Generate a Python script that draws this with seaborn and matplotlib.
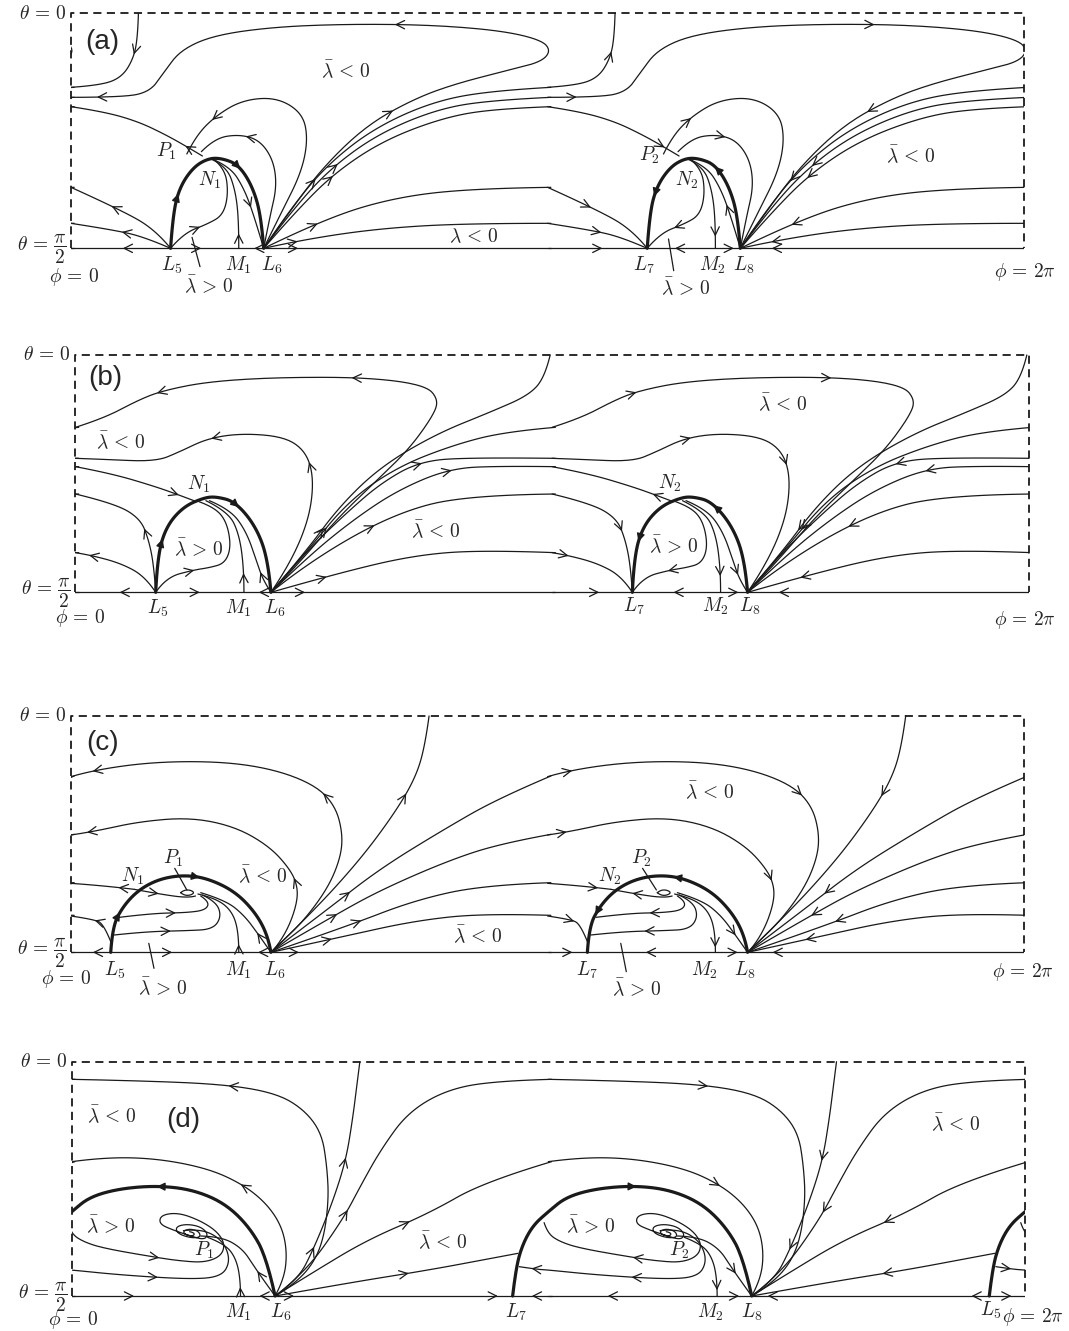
import numpy as np
import matplotlib
matplotlib.use("Agg")
import matplotlib.pyplot as plt
from matplotlib.patches import Rectangle
import seaborn as sns

sns.set_theme(style="white")
plt.rcParams['font.family'] = ['DejaVu Serif']
plt.rcParams['mathtext.fontset'] = 'cm'

# Trajectories, in tracing units (about 2.9 units per
# pixel across, 3 per pixel down).  Each panel is pi-periodic in phi with the
# flow reversed, so only the window 0 <= phi <= pi is traced; the other half is
# drawn as the shifted, reversed copy.
SPAN = 2755.0                      # tracing units across phi = 0 .. 2*pi

# frame: left wall, top (theta=0), bottom (theta=pi/2), vertical offset (px)
a_frame = (205, 40, 745, 0)
b_frame = (218, 45, 757, 340)
c_frame = (205, 48, 757, 700)
d_frame = (207, 65, 768, 1040)

TH0 = r'$\theta \,=\, 0$'
TH90 = r'$\theta \,=\, \dfrac{\pi}{2}$'
PH0 = r'$\phi \,=\, 0$'
PH2 = r'$\phi \,=\, 2\pi$'
NEG = r'$\bar{\lambda} \,<\, 0$'
POS = r'$\bar{\lambda} \,>\, 0$'

# ---------------- panel (a)
a_curves = [
    ([(400, 40), (398, 110), (386, 175), (352, 232), (290, 256), (205, 262)], [0.35]),
    ([(762, 745), (830, 645), (930, 505), (1060, 375), (1200, 295), (1320, 250), (1480, 208),
      (1565, 185), (1592, 152), (1565, 120), (1450, 92), (1250, 75), (1020, 72), (800, 80),
      (620, 105), (522, 150), (475, 215), (430, 280), (330, 292), (205, 292)], [0.22, 0.6, 0.97]),
    ([(585, 468), (540, 440), (480, 405), (400, 365), (300, 335), (205, 320)], [0.14]),
    ([(493, 745), (450, 690), (350, 630), (205, 562)], [0.62]),
    ([(493, 745), (420, 712), (330, 690), (205, 670)], [0.5]),
    ([(493, 745), (530, 700), (600, 672), (645, 645), (660, 580), (650, 505), (615, 475)], [0.3]),
    ([(690, 745), (690, 660), (680, 570), (655, 500), (612, 478)], [0.15]),
    ([(615, 478), (665, 500), (705, 565), (735, 650), (762, 745)], [0.6]),
    ([(762, 745), (812, 640), (870, 520), (890, 420), (875, 340), (800, 292), (700, 300),
      (620, 350), (565, 410), (540, 462)], [0.85]),
    ([(762, 745), (780, 650), (800, 560), (790, 480), (750, 420), (690, 403), (620, 415),
      (582, 455)], [0.72]),
    ([(762, 745), (840, 625), (945, 495), (1080, 385), (1250, 305), (1420, 272), (1592, 262)], [0.25]),
    ([(762, 745), (845, 630), (955, 505), (1095, 400), (1270, 325), (1430, 300), (1592, 292)], [0.33]),
    ([(762, 745), (850, 640), (965, 520), (1110, 420), (1290, 350), (1440, 326), (1592, 320)], [0.3]),
    ([(762, 745), (940, 655), (1150, 590), (1380, 565), (1592, 562)], [0.2]),
    ([(762, 745), (880, 718), (1100, 685), (1350, 670), (1592, 670)], [0.12]),
    ([(493, 745), (205, 745)], [0.48]),
    ([(493, 745), (690, 745)], [0.45]),
    ([(762, 745), (690, 745)], [0.38]),
    ([(762, 745), (1592, 745)], [0.12]),
]
a_thick = [
    ([(493, 745), (500, 640), (520, 560), (560, 500), (605, 474), (645, 476), (690, 495),
      (730, 560), (755, 650), (762, 745)], [0.25, 0.62]),
]
a_labels = [
    (TH0, 192, 42, 'right'), (TH90, 192, 748, 'right'),
    (PH0, 215, 830, 'center'), (PH2, 2962, 817, 'center'),
    (NEG, 1000, 210, 'center'), (NEG, 1370, 705, 'center'),
    (r'$P_1$', 480, 455, 'center'), (r'$N_1$', 605, 540, 'center'),
    (r'$L_5$', 495, 796, 'center'), (r'$M_1$', 688, 796, 'center'), (r'$L_6$', 785, 796, 'center'),
    (POS, 605, 856, 'center'),
    (r'$P_2$', 1877, 467, 'center'), (r'$N_2$', 1985, 542, 'center'),
    (r'$L_7$', 1862, 796, 'center'), (r'$M_2$', 2060, 796, 'center'), (r'$L_8$', 2150, 796, 'center'),
    (POS, 1982, 862, 'center'), (NEG, 2632, 467, 'center'),
]
a_leaders = [((555, 712), (578, 800)), ((1932, 717), (1947, 812))]

# ---------------- panel (b)
b_curves = [
    ([(783, 757), (800, 740), (880, 650), (980, 530), (1080, 430), (1180, 330), (1250, 230),
      (1268, 180), (1230, 135), (1060, 112), (800, 112), (600, 125), (470, 152), (400, 180),
      (300, 235), (218, 262)], [0.55, 0.86]),
    ([(783, 757), (820, 700), (870, 600), (900, 500), (905, 400), (880, 330), (820, 290),
      (700, 280), (600, 295), (520, 335), (450, 365), (300, 358), (218, 355)], [0.36, 0.64]),
    ([(218, 380), (320, 400), (450, 440), (525, 468), (568, 485)], [0.85]),
    ([(450, 757), (445, 680), (430, 600), (405, 535), (330, 490), (218, 462)], [0.45]),
    ([(450, 757), (420, 710), (350, 670), (260, 645), (218, 638)], [0.85]),
    ([(450, 757), (480, 712), (560, 690), (605, 683), (650, 670), (668, 620), (655, 545),
      (620, 502), (575, 485)], [0.3]),
    ([(705, 757), (705, 690), (692, 585), (660, 515), (595, 482)], [0.18]),
    ([(783, 757), (760, 720), (742, 665), (712, 575), (665, 508), (605, 482)], [0.2]),
    ([(783, 757), (880, 640), (980, 500), (1100, 380), (1260, 282), (1420, 215), (1530, 165),
      (1575, 110), (1590, 45)], [0.22]),
    ([(783, 757), (890, 630), (1010, 480), (1150, 380), (1310, 315), (1460, 275), (1605, 262)], [0.25]),
    ([(783, 757), (880, 640), (1000, 520), (1100, 430), (1210, 365), (1350, 352), (1605, 355)], [0.6]),
    ([(783, 757), (890, 650), (1020, 540), (1150, 450), (1300, 385), (1450, 378), (1605, 380)], [0.68]),
    ([(783, 757), (900, 660), (1140, 520), (1350, 465), (1605, 462)], [0.4]),
    ([(783, 757), (975, 700), (1200, 645), (1400, 630), (1605, 638)], [0.2]),
    ([(450, 757), (218, 757)], [0.45]),
    ([(450, 757), (705, 757)], [0.5]),
    ([(783, 757), (705, 757)], [0.45]),
    ([(783, 757), (1605, 757)], [0.12]),
]
b_thick = [
    ([(450, 757), (455, 650), (480, 560), (530, 500), (590, 473), (625, 470), (680, 485),
      (740, 560), (775, 660), (783, 757)], [0.22, 0.62]),
]
b_labels = [
    (TH0, 205, 45, 'right'), (TH90, 205, 760, 'right'),
    (PH0, 230, 835, 'center'), (PH2, 2962, 840, 'center'),
    (NEG, 350, 305, 'center'), (POS, 575, 625, 'center'),
    (NEG, 1260, 570, 'center'), (r'$N_1$', 575, 432, 'center'),
    (r'$L_5$', 455, 805, 'center'), (r'$M_1$', 690, 805, 'center'), (r'$L_6$', 795, 805, 'center'),
    (NEG, 2262, 190, 'center'), (POS, 1947, 615, 'center'),
    (r'$N_2$', 1937, 430, 'center'), (r'$L_7$', 1832, 800, 'center'),
    (r'$M_2$', 2067, 800, 'center'), (r'$L_8$', 2167, 800, 'center'),
]
b_leaders = []

# ---------------- panel (c)
c_curves = [
    ([(783, 757), (800, 740), (880, 660), (950, 560), (985, 470), (990, 400), (970, 320),
      (915, 258), (800, 210), (650, 185), (450, 185), (270, 210), (205, 230)], [0.42, 0.95]),
    ([(783, 757), (800, 740), (835, 680), (858, 610), (860, 560), (840, 510), (780, 440),
      (680, 380), (550, 352), (400, 365), (270, 395), (205, 405)], [0.25, 0.95]),
    ([(388, 568), (300, 557), (205, 550)], [0.25]),
    ([(388, 568), (465, 583), (545, 594), (565, 588)], [0.4]),
    ([(322, 730), (300, 672), (270, 658), (205, 648)], [0.55]),
    ([(330, 705), (420, 695), (540, 692), (615, 688), (640, 650), (625, 605), (585, 585)], [0.4]),
    ([(345, 652), (440, 640), (540, 638), (595, 630), (605, 605), (580, 588)], [0.55]),
    ([(690, 757), (690, 700), (672, 635), (625, 595), (572, 582)], [0.1]),
    ([(783, 757), (748, 705), (705, 645), (650, 600), (580, 578)], [0.25]),
    ([(522, 578), (532, 570), (550, 570), (562, 578), (550, 586), (532, 586), (522, 578)], []),
    ([(783, 757), (900, 640), (1040, 480), (1140, 340), (1200, 235), (1228, 140), (1240, 48)], [0.72]),
    ([(783, 757), (950, 625), (1100, 505), (1280, 390), (1440, 295), (1592, 228)], [0.3]),
    ([(783, 757), (960, 650), (1100, 570), (1300, 480), (1450, 430), (1592, 403)], [0.25]),
    ([(783, 757), (1000, 680), (1200, 600), (1400, 555), (1592, 548)], [0.33]),
    ([(783, 757), (990, 710), (1200, 662), (1400, 640), (1592, 646)], [0.22]),
    ([(320, 757), (205, 757)], [0.45]),
    ([(320, 757), (690, 757)], [0.48]),
    ([(783, 757), (690, 757)], [0.4]),
    ([(783, 757), (1592, 757)], [0.1]),
]
c_thick = [
    ([(320, 757), (325, 680), (355, 620), (400, 570), (460, 537), (530, 525), (600, 535),
      (680, 575), (740, 640), (775, 710), (783, 757)], [0.17, 0.55]),
]
c_labels = [
    (TH0, 192, 48, 'right'), (TH90, 192, 760, 'right'),
    (PH0, 190, 838, 'center'), (PH2, 2957, 815, 'center'),
    (r'$P_1$', 500, 475, 'center'), (r'$N_1$', 383, 530, 'center'),
    (NEG, 760, 525, 'center'), (r'$L_5$', 330, 812, 'center'),
    (POS, 470, 862, 'center'), (r'$M_1$', 690, 812, 'center'),
    (r'$L_6$', 795, 812, 'center'), (NEG, 1380, 705, 'center'),
    (NEG, 2052, 275, 'center'), (r'$P_2$', 1852, 475, 'center'),
    (r'$N_2$', 1762, 530, 'center'), (r'$L_7$', 1697, 810, 'center'),
    (POS, 1842, 865, 'center'), (r'$M_2$', 2037, 810, 'center'),
    (r'$L_8$', 2152, 810, 'center'),
]
c_leaders = [((430, 730), (445, 805)), ((1794, 730), (1810, 815)),
             ((505, 505), (540, 570)), ((1857, 505), (1897, 570))]

# ---------------- panel (d)
d_curves = [
    ([(795, 768), (840, 740), (900, 680), (935, 600), (950, 480), (945, 380), (930, 280),
      (880, 210), (800, 160), (650, 133), (400, 122), (207, 118)], [0.65]),
    ([(795, 768), (820, 720), (830, 640), (815, 560), (770, 490), (700, 432), (600, 385),
      (450, 355), (300, 352), (207, 365)], [0.43]),
    ([(195, 548), (205, 580), (240, 605), (300, 625), (450, 652), (515, 662), (590, 668),
      (640, 648), (650, 610), (625, 572), (575, 540), (515, 518), (465, 525), (460, 552),
      (500, 570), (545, 586), (590, 600), (602, 582), (580, 560), (540, 552), (508, 560),
      (512, 580), (550, 594), (580, 592), (575, 574), (548, 566), (528, 574), (538, 586),
      (560, 588), (562, 578), (548, 575)], [0.25]),
    ([(123, 680), (175, 688), (207, 690), (350, 705), (550, 718), (640, 710), (665, 665),
      (650, 612), (610, 578), (560, 568), (530, 572)], [0.06, 0.45]),
    ([(695, 768), (695, 720), (682, 655), (650, 612), (600, 592)], [0.12]),
    ([(795, 768), (765, 725), (735, 680), (700, 625), (640, 590), (580, 588)], [0.3]),
    ([(795, 768), (860, 720), (905, 630), (960, 490), (1000, 360), (1020, 230), (1032, 130),
      (1040, 65)], [0.25, 0.62]),
    ([(795, 768), (880, 700), (990, 540), (1045, 432), (1100, 330), (1180, 215), (1300, 145),
      (1450, 122), (1594, 118)], [0.3]),
    ([(795, 768), (900, 700), (1060, 600), (1240, 520), (1400, 425), (1594, 365)], [0.5]),
    ([(795, 768), (1000, 730), (1240, 690), (1420, 655), (1497, 640)], [0.55]),
    ([(207, 768), (695, 768)], [0.37]),
    ([(795, 768), (695, 768)], [0.45]),
    ([(795, 768), (1480, 768)], [0.08, 0.94]),
    ([(1594, 768), (1480, 768)], [0.5]),
]
d_thick = [
    ([(795, 768), (770, 650), (720, 560), (650, 490), (560, 450), (460, 437), (350, 445),
      (260, 470), (207, 515), (164, 555), (134, 610), (114, 680), (104, 768)], [0.49]),
]
d_labels = [
    (TH0, 195, 65, 'right'), (TH90, 195, 771, 'right'),
    (PH0, 210, 840, 'center'), (PH2, 3075, 832, 'right'),
    (NEG, 325, 225, 'center'), (POS, 320, 555, 'center'),
    (r'$P_1$', 590, 630, 'center'), (r'$M_1$', 690, 818, 'center'), (r'$L_6$', 810, 818, 'center'),
    (NEG, 1280, 605, 'center'), (r'$L_7$', 1490, 818, 'center'),
    (POS, 1707, 556, 'center'), (r'$P_2$', 1962, 631, 'center'),
    (r'$M_2$', 2052, 818, 'center'), (r'$L_8$', 2172, 818, 'center'),
    (NEG, 2762, 251, 'center'), (r'$L_5$', 2862, 812, 'center'),
]
d_leaders = []

panel_names = ['(a)', '(b)', '(c)', '(d)']
name_spots = [(295, 125), (305, 115), (295, 130), (530, 240)]


def to_data(x, y, frame):
    zl, zt, zb, _ = frame
    phi = (np.asarray(x, float) - zl) / SPAN * 2 * np.pi
    th = (np.asarray(y, float) - zt) / (zb - zt) * np.pi / 2
    return phi, th


def smooth(pts, n=14):
    P = np.asarray(pts, float)
    if len(P) < 3:
        return P
    out = [P[:1]]
    start = P[0]
    t = np.linspace(0, 1, n)[1:, None]
    for i in range(1, len(P) - 1):
        end = P[i + 1] if i == len(P) - 2 else 0.5 * (P[i] + P[i + 1])
        out.append((1 - t) ** 2 * start + 2 * (1 - t) * t * P[i] + t ** 2 * end)
        start = end
    return np.vstack(out)


def draw_curve(ax, clip, pts, arrows, frame, thick=False):
    S = smooth(pts)
    d = np.hypot(np.diff(S[:, 0]) / 2.89, np.diff(S[:, 1]) / 3.0)
    s = np.concatenate([[0], np.cumsum(d)])
    lw = 2.3 if thick else 0.9
    if thick:
        style = dict(arrowstyle='-|>,head_length=0.6,head_width=0.3', color='k',
                     lw=1.0, mutation_scale=8, shrinkA=0, shrinkB=0)
    else:
        style = dict(arrowstyle='->,head_length=0.6,head_width=0.3', color='k',
                     lw=0.9, mutation_scale=10, shrinkA=0, shrinkB=0)
    for k in (-1, 0, 1, 2):
        xs = S[:, 0] + k * SPAN / 2
        phi, th = to_data(xs, S[:, 1], frame)
        ln, = ax.plot(phi, th, color='k', lw=lw, solid_capstyle='round')
        ln.set_clip_path(clip)
        for f in arrows:
            pos = f * s[-1]
            p1 = to_data(np.interp(pos, s, xs), np.interp(pos, s, S[:, 1]), frame)
            p0 = to_data(np.interp(pos - 3, s, xs), np.interp(pos - 3, s, S[:, 1]), frame)
            if not (0.03 < float(p1[0]) < 2 * np.pi - 0.03):
                continue
            if k % 2:
                p0, p1 = p1, p0
            ax.annotate('', xy=(float(p1[0]), float(p1[1])), xytext=(float(p0[0]), float(p0[1])),
                        arrowprops=style, annotation_clip=False)


fig = plt.figure(figsize=(10.69, 13.31), dpi=100)
panels = [
    (a_frame, a_curves, a_thick, a_labels, a_leaders),
    (b_frame, b_curves, b_thick, b_labels, b_leaders),
    (c_frame, c_curves, c_thick, c_labels, c_leaders),
    (d_frame, d_curves, d_thick, d_labels, d_leaders),
]

for i, (frame, curves, thick, labels, leaders) in enumerate(panels):
    zl, zt, zb, y0 = frame
    left = zl / 2.89
    top = y0 + zt / 3.0
    bottom = y0 + zb / 3.0
    ax = fig.add_axes([left / 1069, 1 - bottom / 1331, SPAN / 2.89 / 1069, (bottom - top) / 1331])
    ax.set_xlim(0, 2 * np.pi)
    ax.set_ylim(np.pi / 2, 0)
    ax.axis('off')
    clip = Rectangle((0, -0.1), 2 * np.pi, np.pi / 2 + 0.2, transform=ax.transData)

    ax.plot([0, 0, 2 * np.pi, 2 * np.pi], [np.pi / 2, 0, 0, np.pi / 2],
            color='k', lw=1.3, ls=(0, (4.5, 3)), clip_on=False)

    for pts, arr in curves:
        draw_curve(ax, clip, pts, arr, frame)
    for pts, arr in thick:
        draw_curve(ax, clip, pts, arr, frame, thick=True)

    for (x1, y1), (x2, y2) in leaders:
        px, py = to_data([x1, x2], [y1, y2], frame)
        ax.plot(px, py, color='k', lw=0.9, clip_on=False)

    for text, x, y, ha in labels:
        px, py = to_data(x, y, frame)
        ax.text(float(px), float(py), text, ha=ha, va='center', fontsize=14, clip_on=False)

    nx, ny = to_data(*name_spots[i], frame)
    ax.text(float(nx), float(ny), panel_names[i], ha='center', va='center', fontsize=20,
            family=['Liberation Sans', 'DejaVu Sans'], clip_on=False)

fig.savefig('out.png', dpi=100, facecolor='white')
